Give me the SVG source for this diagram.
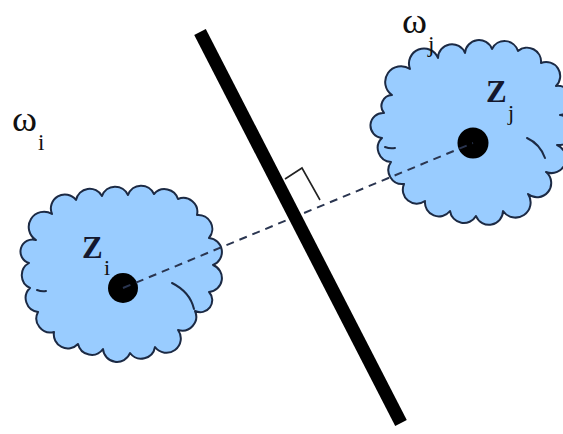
<svg xmlns="http://www.w3.org/2000/svg" width="563" height="434" viewBox="0 0 563 434">
<style>
.cloud{fill:#99ccff;stroke:#1c2a44;stroke-width:2;stroke-linejoin:round}
.inner{fill:none;stroke:#1c2a44;stroke-width:2;stroke-linecap:round}
.dot{fill:#000}
.lbl{font-family:"Liberation Serif","Times New Roman",serif;fill:#111}
.zl{font-family:"Liberation Serif","Times New Roman",serif;font-weight:bold;fill:#14182e}
.dash{fill:none;stroke:#2a3550;stroke-width:2;stroke-dasharray:8 6}
</style>
<rect width="563" height="434" fill="#fff"/>
<g id="cloud-i">
  <path class="cloud" d="M36,240 A15,15 0 0 1 52,214 A14,14 0 0 1 76,200 A14,14 0 0 1 102,196 A14,14 0 0 1 128,195 A14,14 0 0 1 154,194 A14,14 0 0 1 178,199 A14,14 0 0 1 197,215 A14,14 0 0 1 209,238 A14,14 0 0 1 213,265 A14,14 0 0 1 209,292 A12,12 0 0 1 195,311 A14,14 0 0 1 178,330 A14,14 0 0 1 155,347 A14,14 0 0 1 130,353 A14,14 0 0 1 103,349 A14,14 0 0 1 78,344 A14,14 0 0 1 54,332 A14,14 0 0 1 38,312 A14,14 0 0 1 30,288 A14,14 0 0 1 29,263 A12,12 0 0 1 36,240 Z"/>
  <path class="inner" d="M172,283 Q190,292 194,309"/>
  <path class="inner" d="M37,290 Q42,292 46,291"/>
  <circle class="dot" cx="123" cy="288" r="15"/>
  <text class="zl" x="82" y="258" font-size="31">Z</text>
  <text class="lbl" x="104" y="275" font-size="22">i</text>
</g>
<g id="cloud-j">
  <path class="cloud" d="M392,95 A15,15 0 0 1 410,69 A14,14 0 0 1 438,58 A14,14 0 0 1 465,53 A14,14 0 0 1 492,49 A14,14 0 0 1 518,51 A14,14 0 0 1 541,63 A14,14 0 0 1 556,86 A14,14 0 0 1 560,115 A14,14 0 0 1 557,145 A14,14 0 0 1 546,172 A14,14 0 0 1 528,194 A14,14 0 0 1 503,211 A14,14 0 0 1 476,216 A14,14 0 0 1 450,211 A14,14 0 0 1 425,201 A14,14 0 0 1 404,184 A14,14 0 0 1 391,162 A14,14 0 0 1 382,138 A12,12 0 0 1 384,113 A11,11 0 0 1 392,95 Z"/>
  <path class="inner" d="M527,138 Q540,144 545,158"/>
  <path class="inner" d="M385,147 Q390,149 395,148"/>
  <circle class="dot" cx="473" cy="143" r="15.5"/>
  <text class="zl" x="486" y="102" font-size="31">Z</text>
  <text class="lbl" x="508" y="120" font-size="22">j</text>
</g>
<g id="connectors">
  <line class="dash" x1="123" y1="288" x2="473" y2="143"/>
  <polyline points="285,179 302,168 320,200" fill="none" stroke="#222" stroke-width="1.6"/>
</g>
<g id="hyperplane">
  <line x1="200" y1="32" x2="401" y2="423" stroke="#000" stroke-width="13"/>
</g>
<g id="label-omega-i">
  <text class="lbl" x="12" y="131" font-size="36" textLength="25" lengthAdjust="spacingAndGlyphs">ω</text>
  <text class="lbl" x="38" y="150" font-size="23">i</text>
</g>
<g id="label-omega-j">
  <text class="lbl" x="402" y="33" font-size="36" textLength="25" lengthAdjust="spacingAndGlyphs">ω</text>
  <text class="lbl" x="428" y="52" font-size="23">j</text>
</g>
</svg>
